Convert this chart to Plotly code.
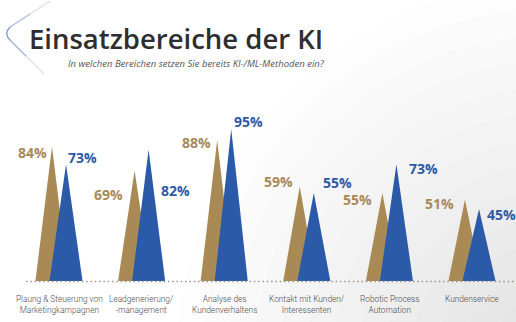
import plotly.graph_objects as go

# Survey results: share of companies already using AI/ML methods per area
categories = [
    "Plaung & Steuerung von<br>Marketingkampagnen",
    "Leadgenerierung/<br>-management",
    "Analyse des<br>Kundenverhaltens",
    "Kontakt mit Kunden/<br>Interessenten",
    "Robotic Process<br>Automation",
    "Kundenservice",
]
gold_values = [84, 69, 88, 59, 55, 51]
blue_values = [73, 82, 95, 55, 73, 45]

# label nudges in pixels (x, y) relative to each peak
gold_label_dx = [-3, -10, -4, -5, -8, -9]
gold_label_dy = [-6, -24, -2, 5, -6, -4]
blue_label_dx = [0, 10, 1, 7, 11, 6]
blue_label_dy = [7, -41, 8, 11, -4, -5]

GOLD = "#A98A55"
BLUE = "#2A5AA8"
GOLD_TXT = "#A8895A"
BLUE_TXT = "#2D5AA6"

W, H = 516, 322
BASE_PX, TOP_PX = 281, 95          # chart baseline / top in page pixels
PX_PER_PCT = 1.6
LEFT_PX, RIGHT_PX = 17.7, 513.3

OFF = 0.085   # horizontal offset of each peak from the category centre
HW = 0.2      # half base width of a peak

fig = go.Figure()
shapes = []

# soft grey shading toward the lower right corner (pixel-space layer)
for k in range(14):
    r = 380 - k * 26
    shapes.append(dict(type="circle", xref="x", yref="y",
                       x0=W + 40 - r, x1=W + 40 + r, y0=H + 40 - r, y1=H + 40 + r,
                       line=dict(width=0), fillcolor="rgba(150,150,160,0.02)",
                       layer="below"))

# rounded bracket ornament beside the heading
bracket = [
    ("M 50 1 L 30 14", 0.2),
    ("M 30 14 L 10 27", 0.45),
    ("M 10 27 Q 3.5 33.5 10 40", 0.7),
    ("M 10 40 L 26 56", 0.5),
    ("M 26 56 L 44 74", 0.2),
]
for path, op in bracket:
    shapes.append(dict(type="path", path=path, xref="x", yref="y",
                       line=dict(color="#4A6DB2", width=1.4), opacity=op,
                       layer="above"))

# dotted baseline
shapes.append(dict(type="line", xref="x", yref="y", x0=26, x1=516,
                   y0=BASE_PX + 0.5, y1=BASE_PX + 0.5,
                   line=dict(color="#9C9484", width=1.5, dash="1.5px,2.8px")))

# invisible anchor trace for the pixel-space layer
fig.add_trace(go.Scatter(x=[0, W], y=[0, H], mode="markers",
                         marker=dict(opacity=0), hoverinfo="skip",
                         showlegend=False, xaxis="x", yaxis="y"))

# peaks: gold first, blue laid over it
for i, v in enumerate(gold_values):
    c = i - OFF
    fig.add_trace(go.Scatter(
        x=[c - HW, c, c + HW, c - HW], y=[0, v, 0, 0],
        mode="lines", line=dict(width=0), fill="toself", fillcolor=GOLD,
        hoverinfo="skip", showlegend=False, xaxis="x2", yaxis="y2"))
for i, v in enumerate(blue_values):
    c = i + OFF
    fig.add_trace(go.Scatter(
        x=[c - HW, c, c + HW, c - HW], y=[0, v, 0, 0],
        mode="lines", line=dict(width=0), fill="toself", fillcolor=BLUE,
        hoverinfo="skip", showlegend=False, xaxis="x2", yaxis="y2"))

annotations = []
lab_font = dict(family="Open Sans", size=14, weight="bold")
for i, v in enumerate(gold_values):
    annotations.append(dict(
        x=i - OFF, y=v, xref="x2", yref="y2", text=f"{v}%", showarrow=False,
        xanchor="right", yanchor="middle",
        xshift=gold_label_dx[i], yshift=gold_label_dy[i],
        font=dict(lab_font, color=GOLD_TXT)))
for i, v in enumerate(blue_values):
    annotations.append(dict(
        x=i + OFF, y=v, xref="x2", yref="y2", text=f"{v}%", showarrow=False,
        xanchor="left", yanchor="middle",
        xshift=blue_label_dx[i], yshift=blue_label_dy[i],
        font=dict(lab_font, color=BLUE_TXT)))

for i, name in enumerate(categories):
    annotations.append(dict(
        x=i, y=0, xref="x2", yref="y2", text=name, showarrow=False,
        xanchor="center", yanchor="top", yshift=-11, align="center",
        font=dict(family="Roboto", size=8.3, weight=300, color="#4A4A4A")))

# heading
annotations.append(dict(
    x=27 / W, y=1 - 38 / H, xref="paper", yref="paper",
    text="Einsatzbereiche der KI", showarrow=False,
    xanchor="left", yanchor="middle",
    font=dict(family="Open Sans", size=27.5, weight=600, color="#2E2E2E")))
annotations.append(dict(
    x=66 / W, y=1 - 64 / H, xref="paper", yref="paper",
    text="<i>In welchen Bereichen setzen Sie bereits KI-/ML-Methoden ein?</i>",
    showarrow=False, xanchor="left", yanchor="middle",
    font=dict(family="Open Sans", size=9.5, color="#555555")))

fig.update_layout(
    width=W, height=H,
    margin=dict(l=0, r=0, t=0, b=0),
    paper_bgcolor="white", plot_bgcolor="rgba(0,0,0,0)",
    xaxis=dict(domain=[0, 1], range=[0, W], visible=False, fixedrange=True),
    yaxis=dict(domain=[0, 1], range=[H, 0], visible=False, fixedrange=True),
    xaxis2=dict(domain=[LEFT_PX / W, RIGHT_PX / W], range=[-0.5, 5.5],
                visible=False, anchor="y2"),
    yaxis2=dict(domain=[(H - BASE_PX) / H, (H - TOP_PX) / H],
                range=[0, (BASE_PX - TOP_PX) / PX_PER_PCT],
                visible=False, anchor="x2"),
    shapes=shapes,
    annotations=annotations,
    showlegend=False,
)

fig.write_html("out.html")
